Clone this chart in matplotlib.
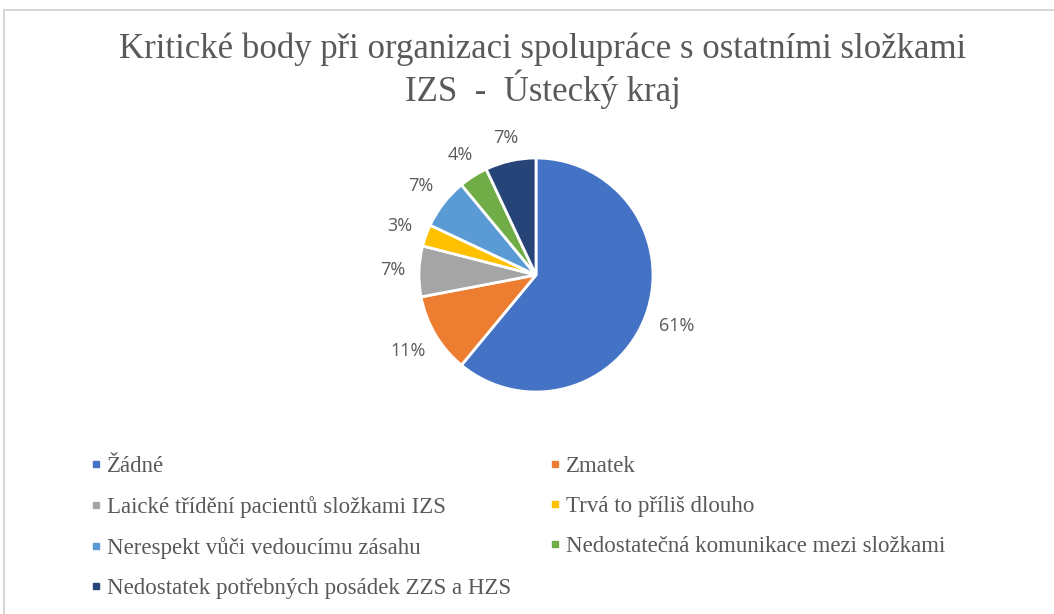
import numpy as np
import matplotlib.pyplot as plt
from matplotlib.patches import Rectangle
from matplotlib.lines import Line2D

# data
labels = ['Žádné', 'Zmatek', 'Laické třídění pacientů složkami IZS',
          'Trvá to příliš dlouho', 'Nerespekt vůči vedoucímu zásahu',
          'Nedostatečná komunikace mezi složkami',
          'Nedostatek potřebných posádek ZZS a HZS']
values = [61, 11, 7, 3, 7, 4, 7]
colors = ['#4472C4', '#ED7D31', '#A5A5A5', '#FFC000', '#5B9BD5', '#70AD47', '#264478']
title = 'Kritické body při organizaci spolupráce s ostatními složkami\nIZS  -  Ústecký kraj'

fig = plt.figure(figsize=(10.54, 6.14), dpi=100)
fig.patches.append(Rectangle((4/1054, -0.1), 1.2, 1 - 10/614 + 0.1, transform=fig.transFigure,
                             fill=False, edgecolor='#D0D0D0', linewidth=1.2))

fig.text(0.515, 1 - 71/614, title, ha='center', va='center', fontsize=25,
         family='Liberation Serif', color='#595959', linespacing=1.12)

cx, cy, r = 536, 275, 117
ax = fig.add_axes([(cx - r)/1054, 1 - (cy + r)/614, 2*r/1054, 2*r/614])
wedges, texts = ax.pie(values, colors=colors, startangle=90, counterclock=False,
                       labels=[f'{v}%' for v in values],
                       wedgeprops=dict(edgecolor='white', linewidth=2),
                       textprops=dict(fontsize=13, color='#595959', family='Open Sans'))
ax.set_xlim(-1, 1)
ax.set_ylim(-1, 1)
ax.set_aspect('equal')
ax.axis('off')

# "outside end" labels: keep a fixed gap between the text box and the rim
fig.canvas.draw()
gap = 14 / r
for w, t in zip(wedges, texts):
    a = np.deg2rad((w.theta1 + w.theta2) / 2)
    bb = t.get_window_extent()
    hw, hh = bb.width / 2 / r, bb.height / 2 / r
    c, s = abs(np.cos(a)) + 1e-9, abs(np.sin(a)) + 1e-9
    d = 1 + gap + min(hw / c, hh / s)
    t.set_position((d * np.cos(a), d * np.sin(a)))
    t.set_ha('center')
    t.set_va('center')

order = [0, 2, 4, 6, 1, 3, 5]
handles = [Line2D([], [], marker='s', linestyle='', markersize=5, color=colors[i]) for i in order]
fig.legend(handles, [labels[i] for i in order], ncol=2, loc='upper left',
           bbox_to_anchor=(70/1054, 1 - 435/614), frameon=False,
           prop=dict(family='Liberation Serif', size=16.5), labelcolor='#595959',
           handlelength=0.5, handletextpad=0.2, columnspacing=1.7, labelspacing=0.84)

fig.savefig('out.png', dpi=100)
